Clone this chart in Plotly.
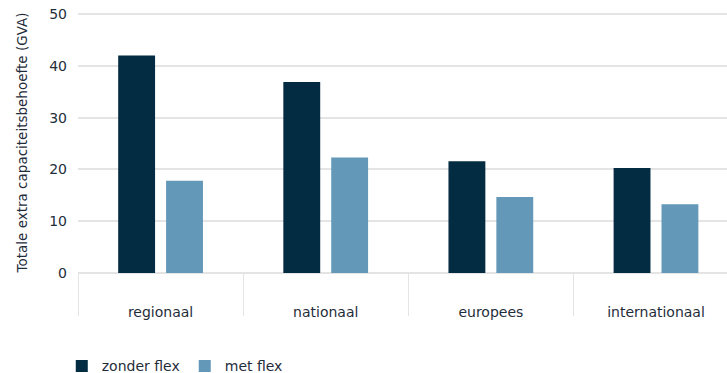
import plotly.graph_objects as go

categories = ["regionaal", "nationaal", "europees", "internationaal"]
zonder_flex = [42.0, 36.9, 21.6, 20.3]
met_flex = [17.8, 22.3, 14.7, 13.3]
series_names = ["zonder flex", "met flex"]
y_ticks = [0, 10, 20, 30, 40, 50]

dark = "#032b41"
light = "#6398b8"
text_color = "#1f2d3a"
grid = "#e4e4e4"
font_family = "DejaVu Sans, sans-serif"

fig = go.Figure()
fig.add_trace(go.Bar(x=categories, y=zonder_flex, name=series_names[0],
                     marker=dict(color=dark, line=dict(width=0))))
fig.add_trace(go.Bar(x=categories, y=met_flex, name=series_names[1],
                     marker=dict(color=light, line=dict(width=0))))

fig.update_layout(
    width=727, height=373,
    margin=dict(l=78, r=0, t=12, b=100),
    paper_bgcolor="white", plot_bgcolor="white",
    barmode="group", bargap=0.42, bargroupgap=0.23,
    font=dict(family=font_family, size=14, color=text_color),
    showlegend=True,
    legend=dict(orientation="h", x=-0.025, xanchor="left",
                yref="container", y=0.018, yanchor="middle",
                font=dict(size=14, color=text_color), itemwidth=30,
                traceorder="normal"),
    xaxis=dict(
        type="category", range=[-0.5, 3.43], automargin=False,
        tickson="boundaries", ticks="outside", ticklen=42, tickwidth=1, tickcolor=grid,
        showgrid=False, showline=False, zeroline=False,
        ticklabelstandoff=29,
        tickfont=dict(size=14, color=text_color),
    ),
    yaxis=dict(
        range=[0, 50.4], tickvals=y_ticks, showgrid=True, gridcolor=grid, gridwidth=1.5,
        zeroline=True, zerolinecolor=grid, zerolinewidth=1.5, showline=False,
        ticks="", ticklabelstandoff=10, automargin=False,
        tickfont=dict(size=14, color=text_color),
        title=dict(text="Totale extra capaciteitsbehoefte (GVA)", standoff=18,
                   font=dict(size=13.5, color=text_color)),
    ),
)

fig.write_html("out.html")
